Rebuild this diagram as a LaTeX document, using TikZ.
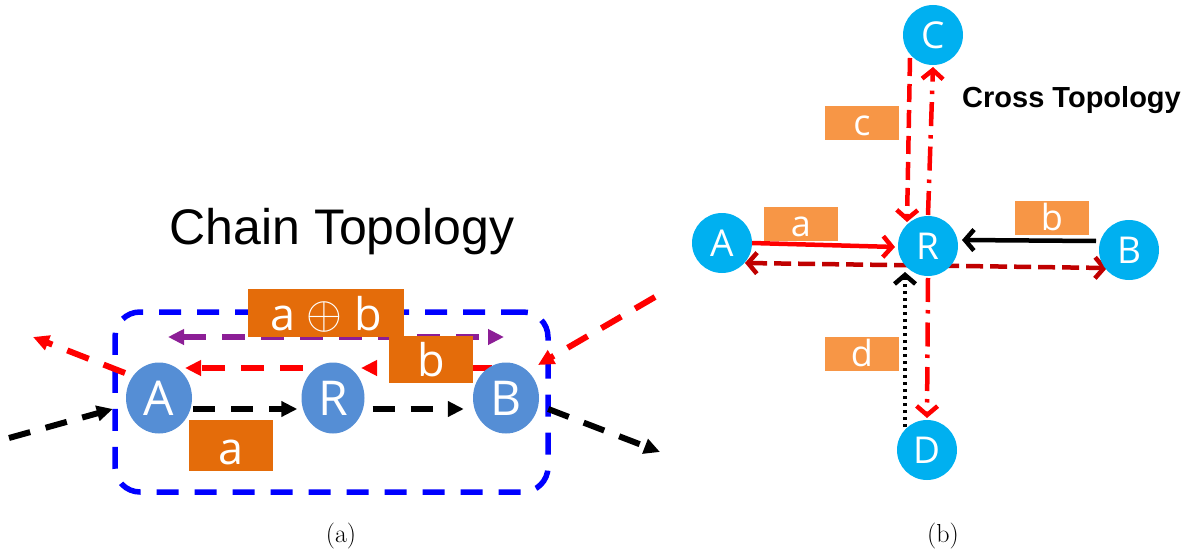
\documentclass[tikz,border=0pt]{standalone}
\usepackage{fontspec}
\usepackage{graphicx}
\usetikzlibrary{arrows.meta,shapes.geometric,calc}
\newfontfamily\osans{Open Sans}
\newfontfamily\arialf{Liberation Sans}
\definecolor{lblue}{HTML}{558ED5}
\definecolor{dorange}{HTML}{E46C0A}
\definecolor{cyanb}{HTML}{00B0F0}
\definecolor{lorange}{HTML}{F79646}
\definecolor{dred}{HTML}{C00000}
\definecolor{purp}{RGB}{140,30,150}
\definecolor{bluel}{RGB}{0,0,255}
\definecolor{redl}{RGB}{255,0,0}
\pgfdeclarelayer{background}
\pgfsetlayers{background,main}
\begin{document}
\begin{tikzpicture}[x=1pt,y=-1pt,
  lnode/.style={ellipse, fill=lblue, text=white, inner sep=0pt, minimum width=66pt, minimum height=71pt, font=\osans\fontsize{48}{50}\selectfont},
  rnode/.style={circle, fill=cyanb, text=white, inner sep=0pt, minimum size=60pt, font=\osans\fontsize{37}{40}\selectfont},
  lbox/.style={fill=dorange, text=white, inner sep=0pt, text depth=0pt, font=\osans\fontsize{45}{48}\selectfont},
  rbox/.style={fill=lorange, text=white, inner sep=0pt, minimum width=74pt, minimum height=34pt, text height=25pt, text depth=0pt, font=\osans\fontsize{36}{40}\selectfont},
  ldash/.style={line width=6pt, dash pattern=on 22pt off 16pt},
  ltip/.style={-{Triangle[length=16pt,width=15pt]}},
  rtip/.style={-{Straight Barb[length=9pt,width=21pt]}},
  rline/.style={line width=4.5pt},
  rdashed/.style={rline, dash pattern=on 18pt off 8pt},
  rdashdot/.style={rline, dash pattern=on 24pt off 8pt on 3.5pt off 9pt},
  rdotted/.style={rline, dash pattern=on 3.5pt off 3.5pt},
  grp/.style={draw=bluel, line width=5.5pt, dash pattern=on 22pt off 16pt, rounded corners=25pt, minimum width=433pt, minimum height=180pt, inner sep=0pt}
]
\useasboundingbox (0,0) rectangle (1195,551);

% ---------- (a) Chain topology ----------
\node[font=\arialf\fontsize{50}{55}\selectfont, anchor=base] (t1) at (342,244) {Chain Topology};
\node[lnode] (A1) at (159,398) {A};
\node[lnode, minimum width=63pt] (R1) at (333,398) {R};
\node[lnode] (B1) at (506,398) {B};
\coordinate (inL) at (9,438);
\coordinate (outR) at (660,452);
\coordinate (outUL) at (33,337);
\coordinate (inUR) at (655,297);

\begin{pgfonlayer}{background}
\node[grp] (G) at (331.5,402) {};
\draw[ldash, ltip, black] (inL) -- ([shift={(-13,11)}]A1.west);
\draw[ldash, ltip, black] ([shift={(1,11)}]A1.east) -- ([shift={(-4,11)}]R1.west);
\draw[ldash, ltip, black] ([shift={(8,11)}]R1.east) -- ([shift={(-9,11)}]B1.west);
\draw[ldash, ltip, black] ([shift={(9,11)}]B1.east) -- (outR);
\draw[ldash, ltip, redl, dash pattern=on 23pt off 16pt] ([shift={(-14,-30)}]B1.center) -- ([shift={(28,-30)}]R1.center);
\draw[ldash, ltip, redl, dash pattern=on 23pt off 16pt] ([shift={(-30,-30)}]R1.center) -- ([shift={(26,-30)}]A1.center);
\draw[ldash, ltip, redl, dash pattern=on 23pt off 16pt] ([shift={(-34,-25)}]A1.center) -- (outUL);
\draw[ldash, ltip, redl, dash pattern=on 23pt off 16pt] (inUR) -- ([shift={(32,-33)}]B1.center);
\draw[ldash, purp, {Triangle[length=16pt,width=15pt]}-{Triangle[length=16pt,width=15pt]}, dash pattern=on 23pt off 16pt] ([shift={(9,-61)}]A1.center) -- ([shift={(-2,-61)}]B1.center);
\end{pgfonlayer}

\node[lbox, minimum width=156pt, minimum height=48pt, text height=34pt] (ab) at (326,313) {a \raisebox{2pt}{\scalebox{1.85}{$\oplus$}} b};
\node[lbox, minimum width=84pt, minimum height=47pt, text height=33pt] (bb) at (431,359.5) {b};
\node[lbox, minimum width=84pt, minimum height=51pt, text height=37pt] (aa) at (231,445.5) {a};

\node[font=\fontsize{26}{30}\selectfont, anchor=base] (capa) at (341,542) {(a)};

% ---------- (b) Cross topology ----------
\node[rnode] (C2) at (933,35) {C};
\node[rnode] (R2) at (928,246) {R};
\node[rnode] (A2) at (722,243) {A};
\node[rnode] (B2) at (1129,250) {B};
\node[rnode] (D2) at (927,450) {D};
\node[font=\arialf\bfseries\fontsize{29}{34}\selectfont, anchor=base] (t2) at (1071.5,107) {Cross Topology};

\begin{pgfonlayer}{background}
\draw[rline, rtip, redl] ([shift={(30,0)}]A2.center) -- ([shift={(-33,1)}]R2.center);
\draw[rline, rtip, black] ([shift={(-33,-9)}]B2.center) -- ([shift={(34,-6)}]R2.center);
\draw[rline, dred, dash pattern=on 17pt off 7pt, {Straight Barb[length=9pt,width=21pt]}-{Straight Barb[length=9pt,width=21pt]}] ([shift={(23,20)}]A2.center) -- ([shift={(-22,18)}]B2.center);
\draw[rdashed, rtip, redl] ([shift={(-23,23)}]C2.center) -- ([shift={(-21,-24)}]R2.center);
\draw[rdashdot, rtip, redl] ([shift={(0,-31)}]R2.center) -- ([shift={(0,32)}]C2.center);
\draw[rdashdot, rtip, redl] ([shift={(0,32)}]R2.center) -- ([shift={(0,-32)}]D2.center);
\draw[rdotted, rtip, black] ([shift={(-22,-23)}]D2.center) -- ([shift={(-23,26)}]R2.center);
\end{pgfonlayer}

\node[rbox] (cbox) at (862,123) {c};
\node[rbox] (abox) at (801,224) {a};
\node[rbox] (bbox) at (1052,218) {b};
\node[rbox] (dbox) at (862,354) {d};

\node[font=\fontsize{26}{30}\selectfont, anchor=base] (capb) at (943,542) {(b)};
\end{tikzpicture}
\end{document}
